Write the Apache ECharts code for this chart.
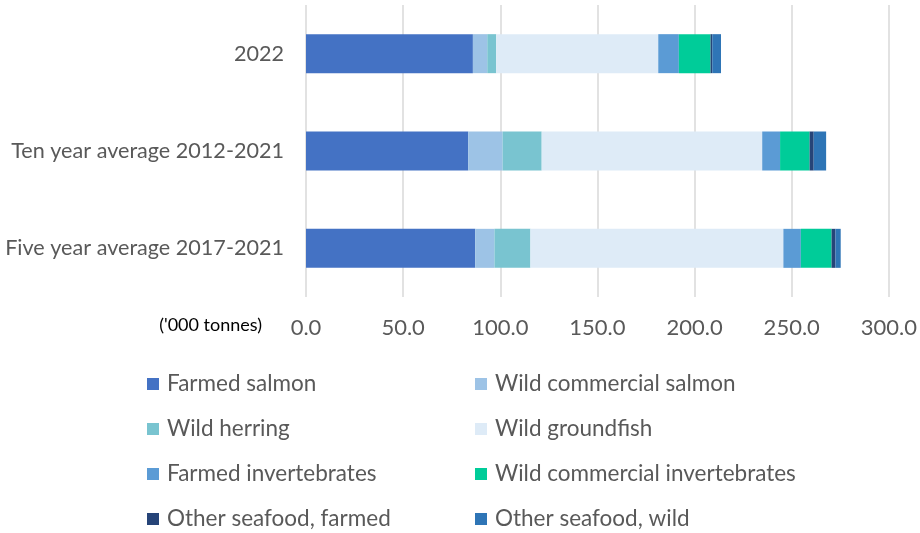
<!DOCTYPE html>
<html><head><meta charset="utf-8">
<script src="https://cdn.jsdelivr.net/npm/echarts@6/dist/echarts.min.js"></script>
<style>html,body{margin:0;padding:0;background:#fff}#c{width:920px;height:533px}</style>
</head><body><div id="c"></div>
<script>
// categories bottom-to-top (ECharts category y axis starts at the bottom)
const categories = ['Five year average 2017-2021', 'Ten year average 2012-2021', '2022'];
const seriesNames = ['Farmed salmon', 'Wild commercial salmon', 'Wild herring', 'Wild groundfish',
  'Farmed invertebrates', 'Wild commercial invertebrates', 'Other seafood, farmed', 'Other seafood, wild'];
const farmedSalmon = [87.1, 83.5, 85.9];
const wildCommercialSalmon = [9.9, 17.7, 7.4];
const wildHerring = [18.5, 20.1, 4.6];
const wildGroundfish = [130.2, 113.5, 83.4];
const farmedInvertebrates = [9.0, 9.2, 10.6];
const wildCommercialInvertebrates = [15.8, 15.2, 16.3];
const otherFarmed = [2.0, 2.1, 0.9];
const otherWild = [2.7, 6.4, 4.5];
const tickValues = [0, 50, 100, 150, 200, 250, 300];
const colors = ['#4472C4', '#9DC3E6', '#79C4D0', '#DEEBF7', '#5B9BD5', '#00CC99', '#264478', '#2E75B6'];
const values = [farmedSalmon, wildCommercialSalmon, wildHerring, wildGroundfish,
  farmedInvertebrates, wildCommercialInvertebrates, otherFarmed, otherWild];

const FONT = 'Lato';
const chart = echarts.init(document.getElementById('c'));
const legendText = {fontSize: 22.5, color: '#595959', fontFamily: FONT, lineHeight: 24, padding: [0, 0, 0, 3]};
chart.setOption({
  animation: false,
  color: colors,
  grid: {left: 306, right: 29, top: 5, height: 292},
  xAxis: {
    type: 'value', min: tickValues[0], max: tickValues[tickValues.length - 1], interval: 50,
    axisLine: {show: false}, axisTick: {show: false},
    splitLine: {lineStyle: {color: '#D9D9D9', width: 1.5}},
    axisLabel: {fontSize: 22, color: '#595959', fontFamily: FONT, margin: 20,
      formatter: v => v.toFixed(1)}
  },
  yAxis: {
    type: 'category', data: categories,
    axisLine: {show: false}, axisTick: {show: false},
    axisLabel: {fontSize: 21.6, color: '#595959', fontFamily: FONT, margin: 22}
  },
  legend: [
    {orient: 'vertical', left: 147, top: 372, height: 161, padding: 0, itemWidth: 12, itemHeight: 12, itemGap: 21,
      icon: 'rect', textStyle: legendText,
      data: [seriesNames[0], seriesNames[2], seriesNames[4], seriesNames[6]]},
    {orient: 'vertical', left: 475, top: 372, height: 161, padding: 0, itemWidth: 12, itemHeight: 12, itemGap: 21,
      icon: 'rect', textStyle: legendText,
      data: [seriesNames[1], seriesNames[3], seriesNames[5], seriesNames[7]]}
  ],
  graphic: [{
    type: 'text', right: 920 - 262, top: 316,
    style: {text: "('000 tonnes)", fontSize: 18, fill: '#000', fontFamily: FONT}
  }],
  series: seriesNames.map((n, i) => ({
    name: n, type: 'bar', stack: 'total', barWidth: 39,
    data: values[i], itemStyle: {color: colors[i]}
  }))
});
</script></body></html>
